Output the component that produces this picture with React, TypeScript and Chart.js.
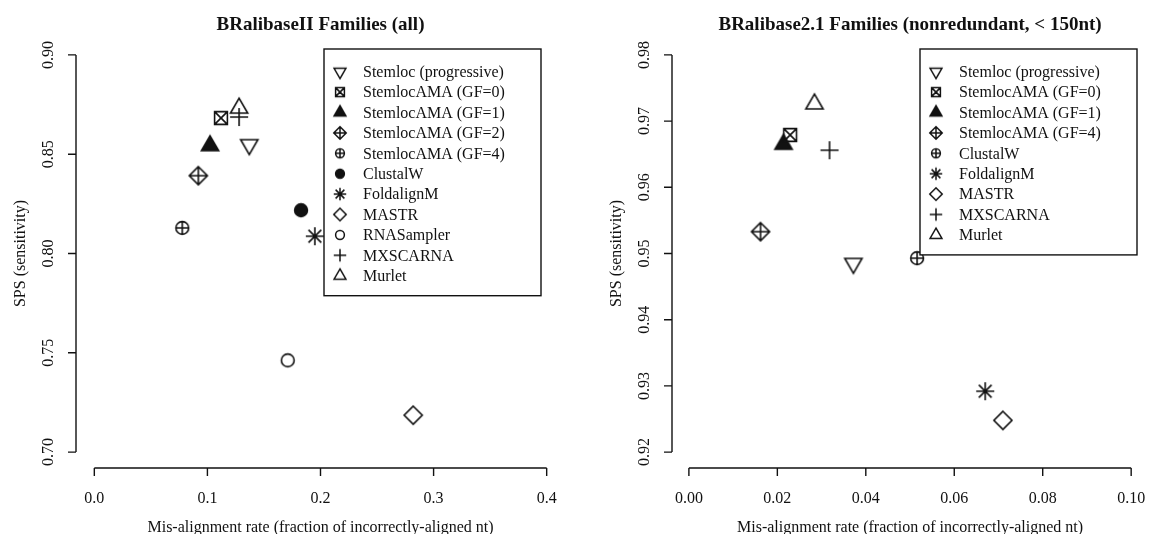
import React, { useEffect, useRef } from "react";
import { Chart, registerables } from "chart.js";
Chart.register(...registerables);

// ---------- data: left panel ----------
const leftTitle = "BRalibaseII Families (all)";
const leftMethods = [
  "Stemloc (progressive)",
  "StemlocAMA (GF=0)",
  "StemlocAMA (GF=1)",
  "StemlocAMA (GF=2)",
  "StemlocAMA (GF=4)",
  "ClustalW",
  "FoldalignM",
  "MASTR",
  "RNASampler",
  "MXSCARNA",
  "Murlet",
];
const leftX = [0.137, 0.112, 0.1023, 0.092, 0.0778, 0.1828, 0.195, 0.282, 0.171, 0.128, 0.128];
const leftY = [0.8548, 0.8682, 0.8543, 0.8392, 0.8129, 0.8218, 0.8087, 0.7186, 0.7462, 0.8687, 0.8732];
const leftShapes = [
  "triDown", "squareX", "triFilled", "diamondPlus", "circlePlus", "circleFilled",
  "star", "diamond", "circle", "plus", "triUp",
];
const leftXTicks = [0, 0.1, 0.2, 0.3, 0.4];
const leftXTickLabels = ["0.0", "0.1", "0.2", "0.3", "0.4"];
const leftYTicks = [0.7, 0.75, 0.8, 0.85, 0.9];
const leftYTickLabels = ["0.70", "0.75", "0.80", "0.85", "0.90"];

// ---------- data: right panel ----------
const rightTitle = "BRalibase2.1 Families (nonredundant, < 150nt)";
const rightMethods = [
  "Stemloc (progressive)",
  "StemlocAMA (GF=0)",
  "StemlocAMA (GF=1)",
  "StemlocAMA (GF=4)",
  "ClustalW",
  "FoldalignM",
  "MASTR",
  "MXSCARNA",
  "Murlet",
];
const rightX = [0.0372, 0.0229, 0.0214, 0.0162, 0.0516, 0.067, 0.071, 0.0318, 0.0284];
const rightY = [0.9485, 0.9679, 0.9665, 0.9533, 0.9493, 0.9292, 0.9248, 0.9656, 0.9726];
const rightShapes = [
  "triDown", "squareX", "triFilled", "diamondPlus", "circlePlus",
  "star", "diamond", "plus", "triUp",
];
const rightXTicks = [0, 0.02, 0.04, 0.06, 0.08, 0.1];
const rightXTickLabels = ["0.00", "0.02", "0.04", "0.06", "0.08", "0.10"];
const rightYTicks = [0.92, 0.93, 0.94, 0.95, 0.96, 0.97, 0.98];
const rightYTickLabels = ["0.92", "0.93", "0.94", "0.95", "0.96", "0.97", "0.98"];

const xAxisTitle = "Mis-alignment rate (fraction of incorrectly-aligned nt)";
const yAxisTitle = "SPS (sensitivity)";

// ---------- styling ----------
const FONT = '"Liberation Serif", "Times New Roman", Times, serif';
const INK = "#111";

function drawMarker(ctx: CanvasRenderingContext2D, shape: string, cx: number, cy: number, s: number, lw: number) {
  ctx.strokeStyle = INK;
  ctx.fillStyle = INK;
  ctx.lineWidth = lw;
  ctx.lineJoin = "miter";
  ctx.lineCap = "butt";
  const d = Math.SQRT2 * s;
  switch (shape) {
    case "triUp":
    case "triFilled":
    case "triDown": {
      const r = 1.555 * s, xc = 1.347 * s, yc = 0.778 * s;
      const dir = shape === "triDown" ? -1 : 1;
      ctx.beginPath();
      ctx.moveTo(cx, cy - dir * r);
      ctx.lineTo(cx + xc, cy + dir * yc);
      ctx.lineTo(cx - xc, cy + dir * yc);
      ctx.closePath();
      if (shape === "triFilled") ctx.fill();
      ctx.stroke();
      break;
    }
    case "squareX": {
      ctx.beginPath();
      ctx.rect(cx - s, cy - s, 2 * s, 2 * s);
      ctx.moveTo(cx - s, cy - s);
      ctx.lineTo(cx + s, cy + s);
      ctx.moveTo(cx + s, cy - s);
      ctx.lineTo(cx - s, cy + s);
      ctx.stroke();
      break;
    }
    case "diamond":
    case "diamondPlus": {
      ctx.beginPath();
      ctx.moveTo(cx, cy - d);
      ctx.lineTo(cx + d, cy);
      ctx.lineTo(cx, cy + d);
      ctx.lineTo(cx - d, cy);
      ctx.closePath();
      if (shape === "diamondPlus") {
        ctx.moveTo(cx - d, cy);
        ctx.lineTo(cx + d, cy);
        ctx.moveTo(cx, cy - d);
        ctx.lineTo(cx, cy + d);
      }
      ctx.stroke();
      break;
    }
    case "circle":
    case "circlePlus":
    case "circleFilled": {
      ctx.beginPath();
      ctx.arc(cx, cy, s, 0, Math.PI * 2);
      if (shape === "circleFilled") {
        ctx.fill();
      }
      if (shape === "circlePlus") {
        ctx.moveTo(cx - s, cy);
        ctx.lineTo(cx + s, cy);
        ctx.moveTo(cx, cy - s);
        ctx.lineTo(cx, cy + s);
      }
      ctx.stroke();
      break;
    }
    case "plus":
    case "star": {
      ctx.beginPath();
      ctx.moveTo(cx - d, cy);
      ctx.lineTo(cx + d, cy);
      ctx.moveTo(cx, cy - d);
      ctx.lineTo(cx, cy + d);
      if (shape === "star") {
        ctx.moveTo(cx - s, cy - s);
        ctx.lineTo(cx + s, cy + s);
        ctx.moveTo(cx + s, cy - s);
        ctx.lineTo(cx - s, cy + s);
      }
      ctx.stroke();
      break;
    }
  }
}

function makeMarker(shape: string, s: number, size: number, lw: number): HTMLCanvasElement {
  const c = document.createElement("canvas");
  c.width = size;
  c.height = size;
  const ctx = c.getContext("2d")!;
  drawMarker(ctx, shape, size / 2, size / 2, s, lw);
  return c;
}

type PanelCfg = {
  left: number;
  width: number;
  padding: { left: number; right: number; top: number; bottom: number };
  xMin: number; xMax: number; yMin: number; yMax: number;
  title: string;
  centerValue: number;
  methods: string[]; xs: number[]; ys: number[]; shapes: string[];
  xTicks: number[]; xTickLabels: string[]; yTicks: number[]; yTickLabels: string[];
};

function Panel({ cfg }: { cfg: PanelCfg }) {
  const ref = useRef<HTMLCanvasElement | null>(null);
  useEffect(() => {
    const canvas = ref.current!;
    const plotMarkers = cfg.shapes.map((sh) => makeMarker(sh, 6.4, 28, 1.6));
    const legendMarkers = cfg.shapes.map((sh) => makeMarker(sh, 4.4, 20, 1.5));

    const rPlugin = {
      id: "rStyle",
      afterDraw(chart: any) {
        const ctx: CanvasRenderingContext2D = chart.ctx;
        const xs = chart.scales.x;
        const ys = chart.scales.y;
        const area = chart.chartArea;
        ctx.save();
        ctx.strokeStyle = INK;
        ctx.fillStyle = INK;
        ctx.lineWidth = 1.4;
        ctx.lineCap = "butt";

        // x axis
        const xa = xs.getPixelForValue(cfg.xTicks[0]);
        const xb = xs.getPixelForValue(cfg.xTicks[cfg.xTicks.length - 1]);
        const yAx = area.bottom;
        ctx.beginPath();
        ctx.moveTo(xa, yAx);
        ctx.lineTo(xb, yAx);
        cfg.xTicks.forEach((t) => {
          const p = xs.getPixelForValue(t);
          ctx.moveTo(p, yAx);
          ctx.lineTo(p, yAx + 8);
        });
        ctx.stroke();
        ctx.font = `16px ${FONT}`;
        ctx.textAlign = "center";
        ctx.textBaseline = "alphabetic";
        cfg.xTicks.forEach((t, i) => {
          ctx.fillText(cfg.xTickLabels[i], xs.getPixelForValue(t), yAx + 35);
        });

        // y axis
        const ya = ys.getPixelForValue(cfg.yTicks[0]);
        const yb = ys.getPixelForValue(cfg.yTicks[cfg.yTicks.length - 1]);
        const xAx = area.left;
        ctx.beginPath();
        ctx.moveTo(xAx, ya);
        ctx.lineTo(xAx, yb);
        cfg.yTicks.forEach((t) => {
          const p = ys.getPixelForValue(t);
          ctx.moveTo(xAx, p);
          ctx.lineTo(xAx - 8, p);
        });
        ctx.stroke();
        cfg.yTicks.forEach((t, i) => {
          ctx.save();
          ctx.translate(xAx - 23, ys.getPixelForValue(t));
          ctx.rotate(-Math.PI / 2);
          ctx.fillText(cfg.yTickLabels[i], 0, 0);
          ctx.restore();
        });

        // axis titles
        const cx = xs.getPixelForValue(cfg.centerValue);
        ctx.fillText(xAxisTitle, cx, yAx + 64);
        ctx.save();
        ctx.translate(xAx - 51, (area.top + area.bottom) / 2);
        ctx.rotate(-Math.PI / 2);
        ctx.fillText(yAxisTitle, 0, 0);
        ctx.restore();

        // main title
        ctx.font = `bold 19px ${FONT}`;
        ctx.fillText(cfg.title, cx, 30);

        // legend
        const bx = area.left + 248;
        const by = area.top + 10;
        const bw = 217;
        const n = cfg.methods.length;
        const bh = 22.7 + (n - 1) * 20.4 + 20;
        ctx.fillStyle = "#fff";
        ctx.fillRect(bx, by, bw, bh);
        ctx.fillStyle = INK;
        ctx.lineWidth = 1.4;
        ctx.strokeRect(bx, by, bw, bh);
        ctx.font = `16px ${FONT}`;
        ctx.textAlign = "left";
        ctx.textBaseline = "middle";
        cfg.methods.forEach((m, i) => {
          const iy = by + 22.7 + i * 20.4;
          const mk = legendMarkers[i];
          ctx.drawImage(mk, bx + 16 - mk.width / 2, iy - mk.height / 2);
          ctx.fillText(m, bx + 39, iy + 1);
        });
        ctx.restore();
      },
    };

    const chart = new Chart(canvas, {
      type: "scatter",
      data: {
        datasets: cfg.methods.map((m, i) => ({
          label: m,
          data: [{ x: cfg.xs[i], y: cfg.ys[i] }],
          pointStyle: plotMarkers[i] as any,
          pointRadius: 10,
          pointHoverRadius: 10,
          backgroundColor: INK,
          borderColor: INK,
        })),
      },
      options: {
        animation: false,
        responsive: false,
        devicePixelRatio: 1,
        layout: { padding: cfg.padding },
        plugins: { legend: { display: false }, title: { display: false }, tooltip: { enabled: false } },
        events: [],
        scales: {
          x: { type: "linear", display: false, min: cfg.xMin, max: cfg.xMax },
          y: { type: "linear", display: false, min: cfg.yMin, max: cfg.yMax },
        },
      },
      plugins: [rPlugin],
    });
    return () => chart.destroy();
  }, [cfg]);
  return (
    <canvas
      ref={ref}
      width={cfg.width}
      height={534}
      style={{ position: "absolute", left: cfg.left, top: 0, width: cfg.width, height: 534 }}
    />
  );
}

const leftCfg: PanelCfg = {
  left: 0,
  width: 579,
  padding: { left: 76, right: 14, top: 39, bottom: 66 },
  xMin: -0.0162, xMax: 0.4162, yMin: 0.692, yMax: 0.908,
  title: leftTitle,
  centerValue: 0.2,
  methods: leftMethods, xs: leftX, ys: leftY, shapes: leftShapes,
  xTicks: leftXTicks, xTickLabels: leftXTickLabels, yTicks: leftYTicks, yTickLabels: leftYTickLabels,
};

const rightCfg: PanelCfg = {
  left: 579,
  width: 579,
  padding: { left: 93, right: 0, top: 39, bottom: 66 },
  xMin: -0.00382, xMax: 0.10358, yMin: 0.9176, yMax: 0.9824,
  title: rightTitle,
  centerValue: 0.05,
  methods: rightMethods, xs: rightX, ys: rightY, shapes: rightShapes,
  xTicks: rightXTicks, xTickLabels: rightXTickLabels, yTicks: rightYTicks, yTickLabels: rightYTickLabels,
};

export default function App() {
  return (
    <div style={{ position: "absolute", left: 0, top: 0, width: 1158, height: 534, background: "#fff", overflow: "hidden" }}>
      <Panel cfg={leftCfg} />
      <Panel cfg={rightCfg} />
    </div>
  );
}
